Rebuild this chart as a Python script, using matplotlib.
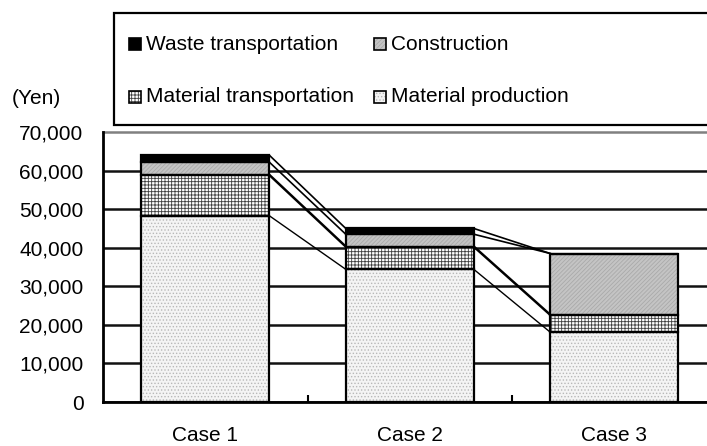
import numpy as np
import matplotlib
matplotlib.use('Agg')
import matplotlib.pyplot as plt
from matplotlib.patches import Rectangle
from matplotlib.ticker import FuncFormatter, FixedLocator

plt.rcParams['font.family'] = ['Liberation Sans', 'DejaVu Sans']
plt.rcParams['hatch.linewidth'] = 0.6

cases = ['Case 1', 'Case 2', 'Case 3']
mat_production = [48300, 34400, 18100]
mat_transport = [10600, 5900, 4500]
construction = [3300, 3200, 15900]
waste_transport = [1800, 1500, 0]

series = [
    # name, values, face, hatch, hatch colour, series-line width
    ('Material production', mat_production, '#f4f4f4', '.....', '#b8b8b8', 1.0),
    ('Material transportation', mat_transport, 'white', '+++++', '#404040', 1.8),
    ('Construction', construction, '#c4c4c4', '////////', '#aaaaaa', 1.2),
    ('Waste transportation', waste_transport, 'black', '', 'black', 1.2),
]

W, H = 707, 446
fig = plt.figure(figsize=(W / 100, H / 100), dpi=100)
# axes runs a bit past the right edge like the original
ax = fig.add_axes([103 / W, 1 - 402 / H, 613.5 / W, 270 / H])

x = np.arange(len(cases))
width = 0.626
bottom = np.zeros(len(cases))
for name, vals, face, hatch, hc, lw in series:
    vals = np.array(vals, dtype=float)
    ax.bar(x, vals, width, bottom=bottom, color=face, hatch=hatch,
           edgecolor=hc, linewidth=0, zorder=3)
    ax.bar(x, vals, width, bottom=bottom, fill=False,
           edgecolor='black', linewidth=1.6, zorder=4)
    top = bottom + vals
    # series lines between the bars
    for i in range(len(cases) - 1):
        ax.plot([x[i] + width / 2, x[i + 1] - width / 2], [top[i], top[i + 1]],
                color='black', linewidth=lw, zorder=2)
    bottom = top

ax.set_xlim(-0.5, 2.5)
ax.set_ylim(0, 70000)
ax.set_yticks(np.arange(0, 70001, 10000))
ax.yaxis.set_major_formatter(FuncFormatter(lambda v, p: f'{int(v):,}'))
ax.set_xticks(x)
ax.set_xticklabels(cases)
ax.xaxis.set_minor_locator(FixedLocator([0.5, 1.5]))
ax.tick_params(axis='x', which='major', length=0, pad=17, labelsize=15)
ax.tick_params(axis='x', which='minor', direction='in', length=5, width=1.5)
ax.tick_params(axis='y', length=0, pad=14, labelsize=15)

ax.yaxis.grid(True, color='#111111', linewidth=1.8, linestyle='-', zorder=0)
ax.set_axisbelow(True)
gl = ax.get_ygridlines()
gl[-1].set_color('#808080')
gl[-1].set_clip_on(False)

for s in ['top', 'right']:
    ax.spines[s].set_visible(False)
ax.spines['left'].set_linewidth(2)
ax.spines['bottom'].set_linewidth(2)

fig.text(12 / W, 1 - 98 / H, '(Yen)', fontsize=15, va='center', ha='left')

# legend box (drawn by hand to match the layout)
fig.add_artist(Rectangle((114 / W, 1 - 125 / H), 700 / W, 112 / H,
                         transform=fig.transFigure, facecolor='white',
                         edgecolor='black', linewidth=1.6, zorder=5))
leg_items = [
    ('Waste transportation', 129, 44, 3),
    ('Construction', 374, 44, 2),
    ('Material transportation', 129, 97, 1),
    ('Material production', 374, 97, 0),
]
for label, lx, ly, k in leg_items:
    _, _, face, hatch, hc, _ = series[k]
    sz = 12
    fig.add_artist(Rectangle((lx / W, 1 - (ly + sz / 2) / H), sz / W, sz / H,
                             transform=fig.transFigure, facecolor=face,
                             hatch=hatch, edgecolor=hc, linewidth=0, zorder=6))
    fig.add_artist(Rectangle((lx / W, 1 - (ly + sz / 2) / H), sz / W, sz / H,
                             transform=fig.transFigure, fill=False,
                             edgecolor='black', linewidth=1.2, zorder=7))
    fig.text((lx + 17) / W, 1 - ly / H, label, fontsize=15, va='center',
             ha='left', zorder=7)

fig.savefig('out.png', dpi=100)
